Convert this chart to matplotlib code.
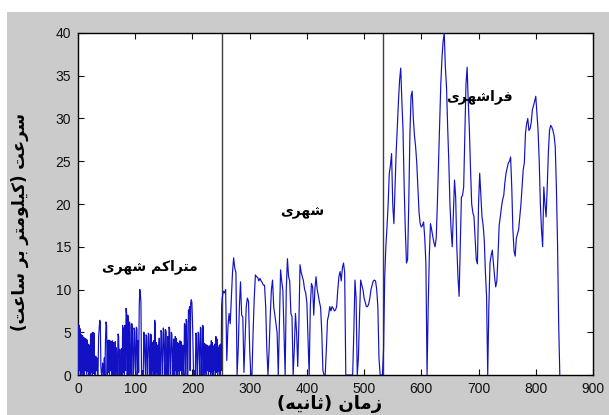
import numpy as np
import matplotlib
matplotlib.use("Agg")
import matplotlib.pyplot as plt
from matplotlib.patches import Rectangle

# speed (km/h); congested part sampled every 1 s, the rest every 2 s
speed_congested = [
    6.0, 0, 5.8, 0.5, 5.4, 0, 4.7, 0.3, 4.6, 0,
    4.4, 0, 4.3, 0.5, 4.2, 0, 4.1, 0.4, 3.6, 0,
    3.5, 0, 4.8, 0.3, 4.9, 0, 5.0, 0.2, 4.9, 0,
    0, 2.2, 0.5, 2.0, 0, 0, 4.5, 5.5, 6.4, 6.2,
    1.0, 0, 0, 1.4, 0.5, 0, 2.0, 0, 4.0, 6.2,
    5.8, 0, 4.0, 0.3, 4.1, 0, 4.0, 0.5, 3.9, 0,
    4.0, 0, 3.8, 0.4, 0, 3.9, 0, 3.2, 1.5, 0,
    4.8, 4.5, 0, 3.0, 0.5, 0, 3.1, 0, 5.8, 0.3,
    5.5, 0, 5.8, 0.5, 7.8, 7.2, 0, 7.0, 6.5, 0,
    6.2, 5.8, 0.5, 0, 6.0, 5.5, 0, 0, 5.5, 5.2,
    1.0, 0, 5.6, 5.4, 0, 4.0, 0.3, 8.0, 10.0, 9.5,
    8.5, 0, 0, 0.5, 0, 5.0, 4.8, 1.5, 0, 4.7,
    4.5, 0, 0, 4.9, 4.7, 2.0, 0, 4.8, 4.6, 0,
    3.8, 0.5, 4.0, 0, 6.4, 6.0, 0, 3.8, 0.3, 3.5,
    0, 3.3, 4.3, 0, 0.5, 5.2, 5.0, 0, 0, 5.5,
    5.3, 2.0, 0, 5.3, 5.0, 0, 1.5, 4.5, 0, 5.6,
    5.4, 0, 0, 5.0, 4.8, 2.0, 0, 4.2, 4.0, 0,
    4.5, 0.5, 4.3, 0, 3.8, 0.4, 3.7, 0, 4.0, 0.5,
    3.9, 0, 0, 3.5, 1.0, 0, 6.0, 5.8, 0, 6.5,
    6.3, 0, 0, 7.6, 7.3, 8.0, 0.5, 8.4, 8.8, 8.5,
    6.5, 3.0, 0, 0, 0.5, 0, 4.9, 4.7, 0, 0,
    5.0, 4.8, 2.0, 0, 5.6, 5.4, 0, 0, 5.8, 5.6,
    0, 3.7, 0.3, 3.6, 0, 3.5, 0.5, 3.4, 0, 3.3,
    0.4, 3.5, 0, 4.0, 0.3, 3.8, 0, 3.4, 0.5, 3.6,
    0, 4.5, 0.3, 4.2, 0, 3.2, 0.4, 3.5, 0, 3.6,
    0.5, 8.0,
]
speed_urban = [
    9.0, 9.8, 9.6, 10.0, 1.7, 5.6, 7.2, 6.0, 9.0, 12.0,
    13.7, 12.5, 12.0, 0, 3.0, 8.0, 10.9, 7.0, 6.8, 0.3,
    4.0, 8.0, 9.0, 8.6, 3.0, 0, 0, 5.0, 9.0, 11.7,
    11.5, 11.4, 11.0, 11.3, 11.0, 10.8, 10.5, 10.5, 8.0, 3.0,
    0, 3.0, 7.0, 10.0, 11.1, 8.0, 7.0, 6.0, 4.9, 0,
    6.0, 12.3, 11.0, 9.9, 5.0, 0, 10.0, 13.6, 11.5, 11.0,
    7.2, 6.8, 0, 3.0, 7.2, 5.0, 1.0, 6.0, 12.9, 12.0,
    11.5, 11.0, 10.0, 9.6, 8.4, 4.0, 0, 8.0, 10.7, 10.3,
    7.0, 10.0, 11.5, 10.0, 9.3, 8.5, 7.9, 5.0, 0.5, 0,
    0, 3.0, 6.4, 7.0, 8.0, 7.5, 8.0, 7.8, 7.5, 7.6,
    8.0, 10.0, 11.5, 12.1, 11.0, 12.5, 13.1, 12.0, 0, 0,
    0, 0, 0, 0, 0, 5.0, 11.1, 9.0, 0, 2.0,
    7.0, 11.1, 10.5, 10.0, 9.0, 8.5, 8.0, 8.0, 8.3, 9.0,
    10.0, 10.5, 11.0, 11.1, 11.0, 10.0, 8.0, 2.0, 0, 0,
    0,
]
speed_extraurban = [
    3.0, 11.5, 15.0, 17.3, 20.0, 23.6, 24.5, 25.9, 20.0, 17.7,
    22.0, 26.0, 29.0, 32.0, 34.5, 35.9, 32.0, 28.6, 22.0, 17.0,
    13.1, 13.5, 20.0, 28.0, 32.6, 33.2, 30.0, 28.0, 26.7, 24.8,
    22.0, 19.0, 17.7, 17.3, 17.5, 17.9, 16.0, 13.0, 0, 8.0,
    14.0, 17.7, 17.0, 16.2, 15.5, 15.0, 16.0, 20.0, 24.8, 30.0,
    34.0, 37.0, 39.0, 40.0, 36.0, 33.7, 29.0, 25.0, 20.0, 17.0,
    15.0, 19.0, 22.8, 20.8, 15.0, 11.5, 9.2, 15.0, 20.8, 21.0,
    22.0, 28.0, 34.0, 36.0, 32.0, 28.6, 24.0, 20.0, 19.0, 18.5,
    16.0, 13.5, 13.0, 20.0, 23.6, 21.0, 18.5, 17.5, 15.8, 12.0,
    9.2, 0, 8.0, 13.1, 14.0, 14.6, 13.0, 11.5, 10.3, 11.0,
    14.0, 17.5, 18.5, 19.6, 20.5, 21.0, 22.5, 23.6, 24.2, 24.8,
    25.0, 25.5, 22.0, 17.0, 14.5, 13.9, 16.0, 16.5, 17.0, 18.5,
    19.9, 22.0, 24.0, 24.8, 28.3, 29.4, 30.0, 28.6, 28.8, 29.5,
    31.0, 31.5, 32.0, 32.6, 30.5, 28.6, 25.0, 20.0, 17.0, 15.0,
    22.0, 20.0, 18.5, 22.0, 26.0, 28.6, 29.2, 29.0, 28.6, 28.0,
    26.7, 22.0, 15.4, 6.0, 0,
]
segment_start = [0, 252, 534]
sample_step = [1, 2, 2]
section_bounds = [252, 533]

# Persian labels (visual order, Arabic presentation forms)
label_congested = "\ufbfc\ufeae\ufeec\ufeb7 \ufee2\ufb90\ufe8d\ufeae\ufe98\ufee3"   # متراکم شهری
label_urban = "\ufbfc\ufeae\ufeec\ufeb7"                                        # شهری
label_extraurban = "\ufbfc\ufeae\ufeec\ufeb7\ufe8d\ufeae\ufed3"                  # فراشهری
label_positions = [(126, 12.7), (391, 19.1), (702, 32.6)]
xlabel_text = "(\ufeea\ufbff\ufee7\ufe8e\ufe9b) \ufee5\ufe8e\ufee3\ufeaf"          # زمان (ثانیه)
ylabel_text = ("(\ufe96\ufecb\ufe8e\ufeb3 \ufeae\ufe91 "
               "\ufeae\ufe98\ufee3\ufeee\ufee0\ufbff\ufb90) \ufe96\ufecb\ufeae\ufeb3")  # سرعت (کیلومتر بر ساعت)

xticks = list(range(0, 901, 100))
yticks = list(range(0, 41, 5))

segments = [speed_congested, speed_urban, speed_extraurban]
time = np.concatenate([s0 + st * np.arange(len(seg))
                       for s0, st, seg in zip(segment_start, sample_step, segments)])
speed = np.concatenate([np.asarray(seg, float) for seg in segments])

W, H = 609, 415
fig = plt.figure(figsize=(W / 100, H / 100), dpi=100)
fig.patch.set_facecolor('white')
fig.patches.append(Rectangle((7 / W, 0), 1, 1 - 12 / H, transform=fig.transFigure,
                             facecolor='#cbcbcb', edgecolor='none', zorder=-10))

ax = fig.add_axes([78 / W, 1 - 375 / H, 515 / W, 342 / H])
ax.set_facecolor('white')
ax.plot(time, speed, color='#1212c4', lw=0.85, zorder=3)
for b in section_bounds:
    ax.axvline(b, color='#404040', lw=1.0, zorder=2)

ax.set_xlim(0, 900)
ax.set_ylim(0, 40)
ax.set_xticks(xticks)
ax.set_yticks(yticks)
ax.tick_params(direction='in', length=4, width=0.8, top=True, right=True,
               labelsize=10, pad=5, colors='#111111')
for lab in ax.get_xticklabels() + ax.get_yticklabels():
    lab.set_family('Liberation Sans')
for sp in ax.spines.values():
    sp.set_linewidth(1.0)
    sp.set_color('black')

for txt, (x, y) in zip([label_congested, label_urban, label_extraurban], label_positions):
    ax.text(x, y, txt, ha='center', va='center', fontsize=10, fontweight='bold',
            family='DejaVu Sans', color='black', zorder=5)

fig.text(330 / W, 1 - 404 / H, xlabel_text, ha='center', va='center', fontsize=13,
         fontweight='bold', family='DejaVu Sans')
fig.text(20 / W, 1 - 222 / H, ylabel_text, ha='center', va='center', rotation=90,
         fontsize=12, fontweight='bold', family='DejaVu Sans')

fig.savefig('out.png', dpi=100, facecolor=fig.get_facecolor())
